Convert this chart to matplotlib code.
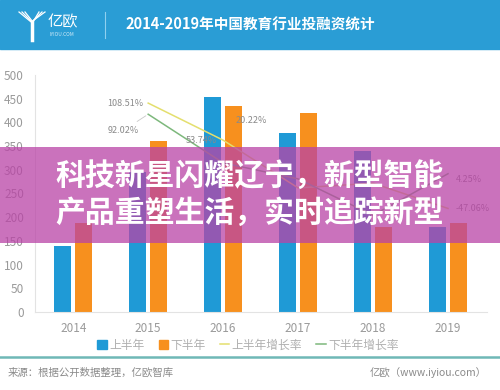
import matplotlib
matplotlib.use('Agg')
import matplotlib.pyplot as plt
from matplotlib.patches import Rectangle, Patch
from matplotlib.lines import Line2D

plt.rcParams['font.family'] = ['Noto Sans CJK SC', 'DejaVu Sans']

years = ['2014', '2015', '2016', '2017', '2018', '2019']
first_half = [140, 295, 453, 377, 340, 180]
second_half = [188, 360, 435, 420, 180, 188]
h1_growth = [108.51, 53.74, -16.77, -9.81, -47.06]   # 2015-2019
h2_growth = [92.02, 20.22, -3.45, -57.14, 4.25]
legend_labels = ['上半年', '下半年', '上半年增长率', '下半年增长率']

W, H = 500, 390
def fx(px):
    return px / W
def fy(py):
    return 1 - py / H

blue = '#1f9ad6'
orange = '#f7901e'
yellow = '#e4df6e'
green = '#7db87c'
grey = '#9a9a9a'

fig = plt.figure(figsize=(5, 3.9), dpi=100)
fig.patch.set_facecolor('white')

# main axes
ax = fig.add_axes([fx(35), fy(312), fx(487) - fx(35), fy(75) - fy(312)])
x = list(range(len(years)))
ax.bar([i - 0.14 for i in x], first_half, width=0.225, color=blue, zorder=2)
ax.bar([i + 0.14 for i in x], second_half, width=0.225, color=orange, zorder=2)
ax.set_xlim(-0.51, 5.52)
ax.set_ylim(0, 500)
ax.set_yticks(range(0, 501, 50))
ax.set_xticks(x)
ax.set_xticklabels(years)
ax.tick_params(length=0, colors=grey, labelsize=8.5, pad=7)
ax.tick_params(axis='y', pad=8)
for s in ['top', 'right']:
    ax.spines[s].set_visible(False)
for s in ['left', 'bottom']:
    ax.spines[s].set_color('#e3e3e3')
    ax.spines[s].set_linewidth(0.8)

# growth lines on hidden secondary axis
ax2 = ax.twinx()
ax2.set_ylim(-200, 150)
ax2.axis('off')
gx = x[1:]
ax2.plot(gx, h1_growth, color=yellow, lw=1.1, zorder=3)
ax2.plot(gx, h2_growth, color=green, lw=1.1, zorder=3)

# only the labels that show in the picture
h1_lab = {0: (-5, 0, 'right'), 1: (-6, 0, 'right'), 4: (8, 0, 'left')}
h2_lab = {0: (-9, -16, 'right'), 1: (12, 42, 'left'), 4: (8, -6, 'left')}
for i, (dx, dy, ha) in h1_lab.items():
    ax2.annotate(f'{h1_growth[i]:.2f}%', (gx[i], h1_growth[i]), xytext=(dx, dy),
                 textcoords='offset pixels', ha=ha, va='center', fontsize=6.5,
                 color='#8a8a8a', zorder=4)
for i, (dx, dy, ha) in h2_lab.items():
    arrow = dict(arrowstyle='-', color='#c8c8c8', lw=0.6) if i == 0 else None
    ax2.annotate(f'{h2_growth[i]:.2f}%', (gx[i], h2_growth[i]), xytext=(dx, dy),
                 textcoords='offset pixels', ha=ha, va='center', fontsize=6.5,
                 color='#8a8a8a', zorder=4, arrowprops=arrow)

# legend
handles = [Patch(color=blue), Patch(color=orange),
           Line2D([], [], color=yellow, lw=1.1), Line2D([], [], color=green, lw=1.1)]
fig.legend(handles, legend_labels, loc='center', bbox_to_anchor=(fx(248), fy(345)),
           ncol=4, frameon=False, fontsize=8.5, labelcolor='#b0b0b0',
           handlelength=0.8, handleheight=0.7, handletextpad=0.2, columnspacing=1.2)

# header band
fig.add_artist(Rectangle((0, fy(49)), 1, fy(0) - fy(49), transform=fig.transFigure,
                         color='#2a9dd5', zorder=1))
fig.text(fx(125), fy(25), '2014-2019年中国教育行业投融资统计', color='white',
         fontsize=10.5, fontweight='bold', va='center', ha='left', zorder=6)
fig.add_artist(Line2D([fx(105), fx(105)], [fy(12), fy(38)], transform=fig.transFigure,
                      color='#8fd0ef', lw=0.8, zorder=6))
# logo
for dx in [-3, 0, 3]:
    fig.add_artist(Line2D([fx(22 + dx), fx(32 + dx * 0.3), fx(42 - dx)],
                          [fy(12), fy(22), fy(12)], transform=fig.transFigure,
                          color='white', lw=0.9, zorder=6))
fig.add_artist(Line2D([fx(32), fx(32)], [fy(22), fy(40)], transform=fig.transFigure,
                      color='white', lw=2.5, zorder=6))
fig.text(fx(48), fy(22), '亿欧', color='white', fontsize=11, va='center', ha='left', zorder=6)
fig.text(fx(50), fy(35), 'IYIOU.COM', color='#cde9f7', fontsize=3.5, va='center', ha='left', zorder=6)

# footer
fig.add_artist(Line2D([0, 1], [fy(357), fy(357)], transform=fig.transFigure,
                      color='#6fb8b6', lw=1.8, zorder=6))
fig.text(fx(8), fy(373), '来源：根据公开数据整理，亿欧智库', color='#8a8a8a',
         fontsize=7.5, va='center', ha='left')
fig.text(fx(487), fy(373), '亿欧（www.iyiou.com）', color='#8a8a8a',
         fontsize=7.5, va='center', ha='right')

# overlay banner
fig.add_artist(Rectangle((0, fy(243)), 1, fy(147) - fy(243), transform=fig.transFigure,
                         color='#b943a6', alpha=0.75, lw=0, zorder=8))
fig.text(fx(55), fy(176), '科技新星闪耀辽宁，新型智能', color='white', fontsize=21.5,
         fontweight='heavy', va='center', ha='left', zorder=9)
fig.text(fx(55), fy(213), '产品重塑生活，实时追踪新型', color='white', fontsize=21.5,
         fontweight='heavy', va='center', ha='left', zorder=9)

fig.savefig('out.png', dpi=100)
